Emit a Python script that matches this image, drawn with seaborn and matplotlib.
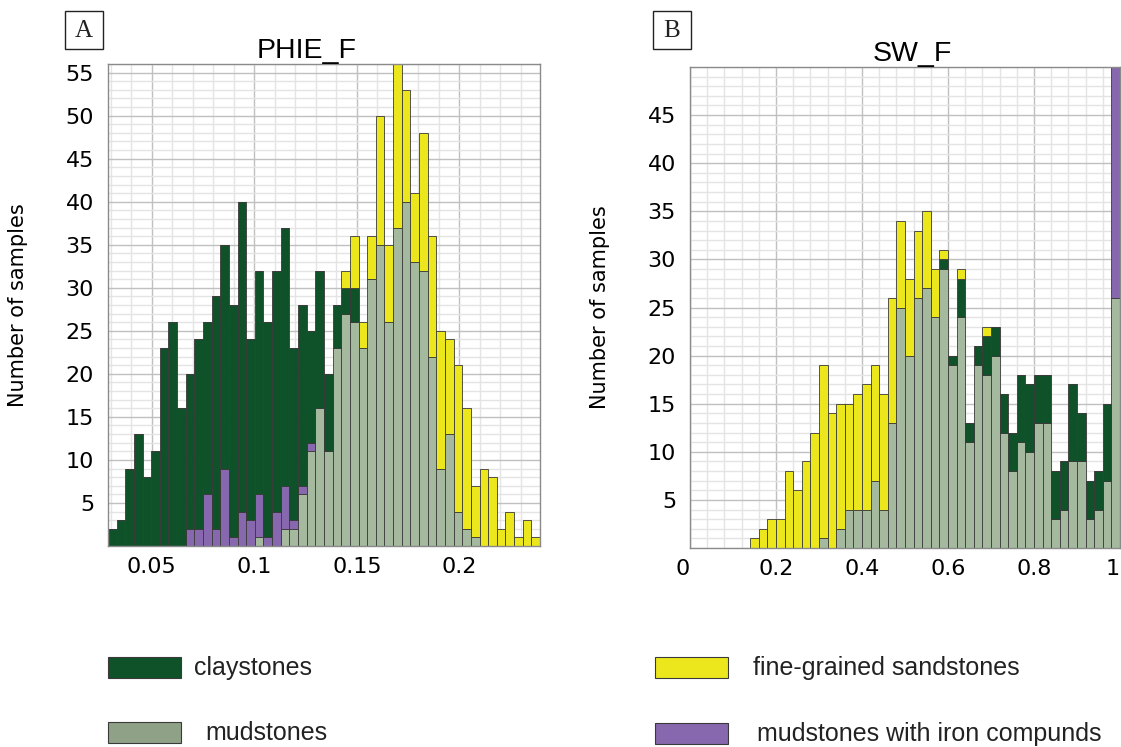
import matplotlib
matplotlib.use("Agg")
import matplotlib.pyplot as plt
from matplotlib.patches import Rectangle
from matplotlib.ticker import MultipleLocator
import numpy as np
import pandas as pd
import seaborn as sns

# lithology classes (legend text kept as in the figure)
LITHO = ["claystones", "mudstones", "fine-grained sandstones", "mudstones with iron compunds"]

# PHIE_F histogram, 50 bins, counts per class
phie_clay = [2, 3, 9, 13, 8, 11, 23, 26, 16, 18, 22, 20, 27, 26, 27, 36, 21, 26, 25, 28,
             30, 20, 21, 13, 16, 9, 5, 3, 4, 0, 0, 0, 0, 0, 0, 0, 0, 0, 0, 0,
             0, 0, 0, 0, 0, 0, 0, 0, 0, 0]
phie_mud = [0, 0, 0, 0, 0, 0, 0, 0, 0, 0, 0, 0, 0, 0, 0, 0, 0, 1, 0, 0,
            2, 2, 6, 11, 16, 11, 23, 27, 26, 23, 31, 35, 26, 37, 40, 33, 32, 22, 9, 13,
            4, 2, 1, 0, 0, 0, 0, 0, 0, 0]
phie_sand = [0, 0, 0, 0, 0, 0, 0, 0, 0, 0, 0, 0, 0, 0, 0, 0, 0, 0, 0, 0,
             0, 0, 0, 0, 0, 0, 0, 2, 6, 3, 5, 15, 9, 19, 13, 8, 16, 14, 16, 11,
             17, 14, 6, 9, 8, 2, 4, 1, 3, 1]
phie_iron = [0, 0, 0, 0, 0, 0, 0, 0, 0, 2, 2, 6, 2, 9, 1, 4, 3, 5, 1, 4,
             5, 1, 1, 1, 0, 0, 0, 0, 0, 0, 0, 0, 0, 0, 0, 0, 0, 0, 0, 0,
             0, 0, 0, 0, 0, 0, 0, 0, 0, 0]

# SW_F histogram, 50 bins over 0..1
sw_clay = [0, 0, 0, 0, 0, 0, 0, 0, 0, 0, 0, 0, 0, 0, 0, 0, 0, 0, 0, 0,
           0, 0, 0, 0, 0, 0, 0, 0, 0, 1, 1, 4, 2, 2, 4, 3, 4, 4, 7, 7,
           5, 5, 5, 5, 8, 5, 4, 4, 8, 0]
sw_mud = [0, 0, 0, 0, 0, 0, 0, 0, 0, 0, 0, 0, 0, 0, 0, 1, 0, 2, 4, 4,
          4, 7, 4, 13, 25, 20, 26, 27, 24, 29, 19, 24, 11, 19, 18, 20, 12, 8, 11, 10,
          13, 13, 3, 4, 9, 9, 3, 4, 7, 26]
sw_sand = [0, 0, 0, 0, 0, 0, 0, 1, 2, 3, 3, 8, 6, 9, 12, 18, 14, 13, 11, 12,
           13, 12, 12, 13, 9, 8, 7, 8, 5, 1, 0, 1, 0, 0, 1, 0, 0, 0, 0, 0,
           0, 0, 0, 0, 0, 0, 0, 0, 0, 0]
sw_iron = [0, 0, 0, 0, 0, 0, 0, 0, 0, 0, 0, 0, 0, 0, 0, 0, 0, 0, 0, 0,
           0, 0, 0, 0, 0, 0, 0, 0, 0, 0, 0, 0, 0, 0, 0, 0, 0, 0, 0, 0,
           0, 0, 0, 0, 0, 0, 0, 0, 0, 40]

COLORS = {"claystones": "#0f5229", "mudstones": "#a4b99d",
          "fine-grained sandstones": "#ece71c", "mudstones with iron compunds": "#8767ae"}
LEG_COLORS = {"claystones": "#0f5229", "mudstones": "#8fa287",
              "fine-grained sandstones": "#ece71c", "mudstones with iron compunds": "#8767ae"}
# first hue level ends up on top of the stack
STACK_ORDER = ["fine-grained sandstones", "claystones", "mudstones with iron compunds", "mudstones"]


def long_table(edges, counts):
    mids = (edges[:-1] + edges[1:]) / 2
    rows = []
    for name, vals in counts.items():
        for m, v in zip(mids, vals):
            rows.append({"x": m, "litho": name, "n": v})
    return pd.DataFrame(rows)


def draw_panel(ax, edges, counts, ylim, major_x, minor_x):
    df = long_table(edges, counts)
    sns.histplot(data=df, x="x", weights="n", hue="litho", hue_order=STACK_ORDER,
                 bins=list(edges), multiple="stack", palette=COLORS, alpha=1,
                 edgecolor="#3a3a3a", linewidth=0.6, legend=False, ax=ax)
    ax.set_xlim(edges[0], edges[-1])
    ax.set_ylim(*ylim)
    ax.xaxis.set_major_locator(MultipleLocator(major_x))
    ax.xaxis.set_minor_locator(MultipleLocator(minor_x))
    ax.yaxis.set_major_locator(MultipleLocator(5))
    ax.yaxis.set_minor_locator(MultipleLocator(1))
    ax.set_axisbelow(True)
    ax.grid(which="major", color="#c0c0c0", lw=1.0)
    ax.grid(which="minor", color="#e4e4e4", lw=1.0)
    ax.tick_params(which="both", length=0, labelsize=16, pad=10)
    ax.tick_params(axis="x", pad=8)
    for s in ax.spines.values():
        s.set_color("#8a8a8a")
        s.set_linewidth(1.0)
    ax.set_xlabel("")
    ax.set_ylabel("Number of samples", fontsize=15)
    ax.yaxis.set_label_coords(-0.185, 0.5)


fig = plt.figure(figsize=(11.21, 7.47), dpi=100)
axA = fig.add_axes([0.0963, 0.2691, 0.3854, 0.6452])
axB = fig.add_axes([0.6155, 0.2664, 0.3836, 0.6439])

edgesA = np.linspace(0.0286, 0.2393, 51)
draw_panel(axA, edgesA, {"claystones": phie_clay, "mudstones": phie_mud,
                         "fine-grained sandstones": phie_sand,
                         "mudstones with iron compunds": phie_iron},
           (0, 56), 0.05, 0.01)
axA.set_xticks([0.05, 0.1, 0.15, 0.2])
axA.set_xticklabels(["0.05", "0.1", "0.15", "0.2"])
axA.set_yticks(range(5, 56, 5))
axA.set_title("PHIE_F", fontsize=20.5, family="Liberation Sans", x=0.46, pad=1.5)

edgesB = np.linspace(0, 1, 51)
draw_panel(axB, edgesB, {"claystones": sw_clay, "mudstones": sw_mud,
                         "fine-grained sandstones": sw_sand,
                         "mudstones with iron compunds": sw_iron},
           (0, 50), 0.2, 0.04)
axB.set_xticks([0, 0.2, 0.4, 0.6, 0.8, 1.0])
axB.set_xticklabels(["0", "0.2", "0.4", "0.6", "0.8", "1"])
axB.get_xticklabels()[0].set_ha("right")
axB.get_xticklabels()[-1].set_ha("right")
axB.set_yticks(range(5, 50, 5))
axB.set_title("SW_F", fontsize=20.5, family="Liberation Sans", x=0.516, pad=1.5)

W, H = 1121, 747


def px_rect(x0, y0, x1, y1, **kw):
    fig.add_artist(Rectangle((x0 / W, 1 - y1 / H), (x1 - x0) / W, (y1 - y0) / H,
                             transform=fig.transFigure, **kw))


# panel letters in boxes
for lab, x0 in [("A", 65), ("B", 653)]:
    px_rect(x0, 11, x0 + 38, 49, facecolor="white", edgecolor="#222222", lw=1.0)
    fig.text((x0 + 19) / W, 1 - 31 / H, lab, ha="center", va="center",
             fontsize=18, family="Liberation Serif", color="#222222")

# legend
legend_items = [("claystones", 108, 657, 194),
                ("mudstones", 108, 722, 205),
                ("fine-grained sandstones", 655, 657, 753),
                ("mudstones with iron compunds", 655, 723, 757)]
for name, x0, y0, tx in legend_items:
    px_rect(x0, y0, x0 + 73, y0 + 21, facecolor=LEG_COLORS[name], edgecolor="#3a3a3a", lw=0.8)
    fig.text(tx / W, 1 - (y0 + 11) / H, name, ha="left", va="center",
             fontsize=18, family="Liberation Sans", color="#222222")

fig.savefig("out.png", dpi=100)
